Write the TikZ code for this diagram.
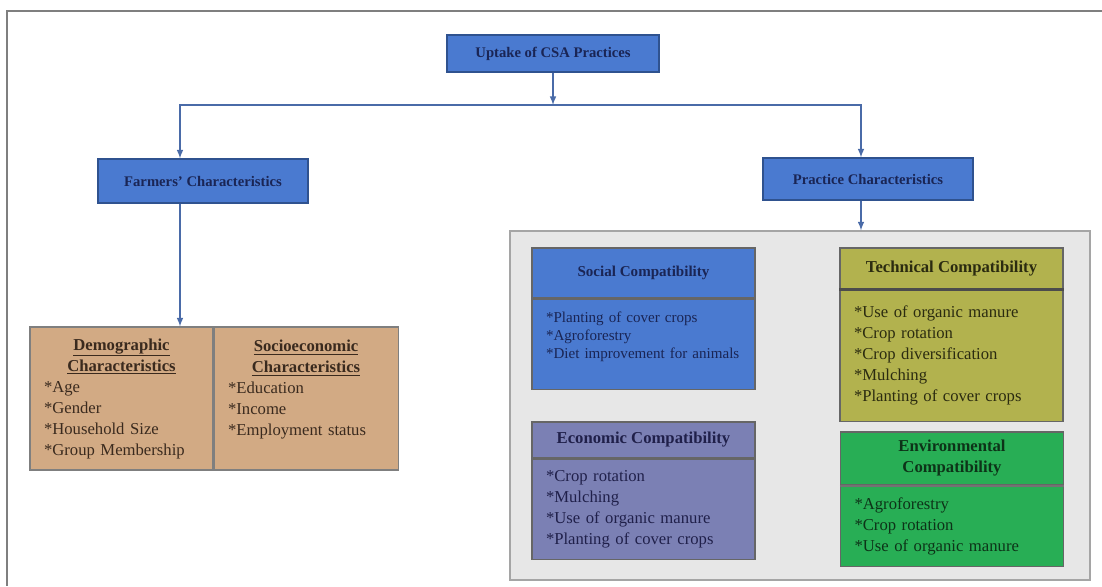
\documentclass[tikz,border=0pt]{standalone}
\usepackage{fontspec}
\setmainfont{Liberation Serif}
\usetikzlibrary{arrows,positioning}
\newcommand{\pxu}{0.75pt}
\definecolor{csablue}{HTML}{4A7AD0}
\definecolor{bluedraw}{HTML}{2F528F}
\definecolor{navy}{HTML}{1A2555}
\definecolor{linkc}{HTML}{4A6BA8}
\definecolor{tan}{HTML}{D2AA84}
\definecolor{tantext}{HTML}{3A2A1E}
\definecolor{olive}{HTML}{B2B24E}
\definecolor{olivetext}{HTML}{2B2B10}
\definecolor{slate}{HTML}{7B80B4}
\definecolor{slatetext}{HTML}{20204A}
\definecolor{leaf}{HTML}{28AE55}
\definecolor{leaftext}{HTML}{0D3318}
\definecolor{panelc}{HTML}{E7E7E7}
\definecolor{framec}{HTML}{7F7F7F}

\begin{document}
\begin{tikzpicture}[x=0.75pt,y=-0.75pt,>=latex,
    link/.style={draw=linkc,line width=1.2pt},
    headbox/.style={draw=bluedraw,fill=csablue,text=navy,line width=0.8pt,inner sep=0pt,
        font=\bfseries\fontsize{11}{13}\selectfont,minimum width=210*\pxu,minimum height=42*\pxu},
    hd/.style={draw=framec!80!black,line width=0.8pt,inner sep=0pt,align=center,
        minimum width=223*\pxu,font=\bfseries\fontsize{12.5}{15.75}\selectfont},
    bd/.style={draw=framec!80!black,line width=0.8pt,inner xsep=14*\pxu,inner ysep=0pt,
        text width=195*\pxu,align=left,font=\fontsize{12.5}{15.75}\selectfont},
    col/.style={draw=framec,fill=tan,text=tantext,line width=0.8pt,inner xsep=14*\pxu,inner ysep=0pt,
        minimum height=143*\pxu,font=\fontsize{12.5}{15.75}\selectfont}]
\useasboundingbox (0,0) rectangle (1102,586);
\draw[framec,line width=1.5pt] (1102,11) -- (7,11) -- (7,586);

\node[headbox,minimum width=212*\pxu,minimum height=37*\pxu] (uptake) at (553,53.5) {Uptake of CSA Practices};
\node[headbox,minimum height=44*\pxu] (farmers) at (203,181) {Farmers' Characteristics};
\node[headbox] (practice) at (868,179) {Practice Characteristics};

\node[draw=framec!70,fill=panelc,line width=1pt,minimum width=580*\pxu,minimum height=349*\pxu] (panel) at (800,405.5) {};

\node[col,text width=155*\pxu] (demo) at (121.5,398.5)
    {{\centering\bfseries\underline{Demographic}\\\underline{Characteristics}\par}
     *Age\\{}*Gender\\{}*Household Size\\{}*Group Membership};
\node[col,text width=156*\pxu,right=0pt of demo] (socio)
    {{\centering\bfseries\underline{Socioeconomic}\\\underline{Characteristics}\par}
     *Education\\{}*Income\\{}*Employment status\\\mbox{}};

\node[hd,fill=csablue,text=navy,minimum height=50*\pxu,font=\bfseries\fontsize{11.3}{13.5}\selectfont] (socialhd) at (643.5,273) {Social Compatibility};
\node[bd,fill=csablue,text=navy,minimum height=90*\pxu,font=\fontsize{11.3}{13.5}\selectfont,below=0pt of socialhd] (social)
    {*Planting of cover crops\\{}*Agroforestry\\{}*Diet improvement for animals\\\mbox{}};

\node[hd,fill=olive,text=olivetext,minimum height=41*\pxu] (technicalhd) at (951.5,268.5) {Technical Compatibility};
\node[bd,fill=olive,text=olivetext,minimum height=131*\pxu,below=0pt of technicalhd] (technical)
    {*Use of organic manure\\{}*Crop rotation\\{}*Crop diversification\\{}*Mulching\\{}*Planting of cover crops};
\draw[black!70,line width=2pt] (technicalhd.south west) -- (technicalhd.south east);

\node[hd,fill=slate,text=slatetext,minimum height=36*\pxu] (economichd) at (643.5,440) {Economic Compatibility};
\node[bd,fill=slate,text=slatetext,minimum height=100*\pxu,below=0pt of economichd] (economic)
    {*Crop rotation\\{}*Mulching\\{}*Use of organic manure\\{}*Planting of cover crops};

\node[hd,fill=leaf,text=leaftext,minimum height=53*\pxu] (environmentalhd) at (952,458.5) {Environmental\\Compatibility};
\node[bd,fill=leaf,text=leaftext,minimum height=80*\pxu,below=0pt of environmentalhd] (environmental)
    {*Agroforestry\\{}*Crop rotation\\{}*Use of organic manure};
\draw[black!55,line width=1.5pt] (environmentalhd.south west) -- (environmentalhd.south east);

\coordinate (split) at (553,105);
\coordinate (lft) at (180,105);
\coordinate (rgt) at (861,105);
\draw[link,->] (uptake) -- (split);
\draw[link,->] (split) -| (lft |- farmers.north);
\draw[link,->] (split) -| (rgt |- practice.north);
\draw[link,->] (lft |- farmers.south) -- (lft |- demo.north);
\draw[link,->] (rgt |- practice.south) -- (rgt |- panel.north);
\end{tikzpicture}
\end{document}
